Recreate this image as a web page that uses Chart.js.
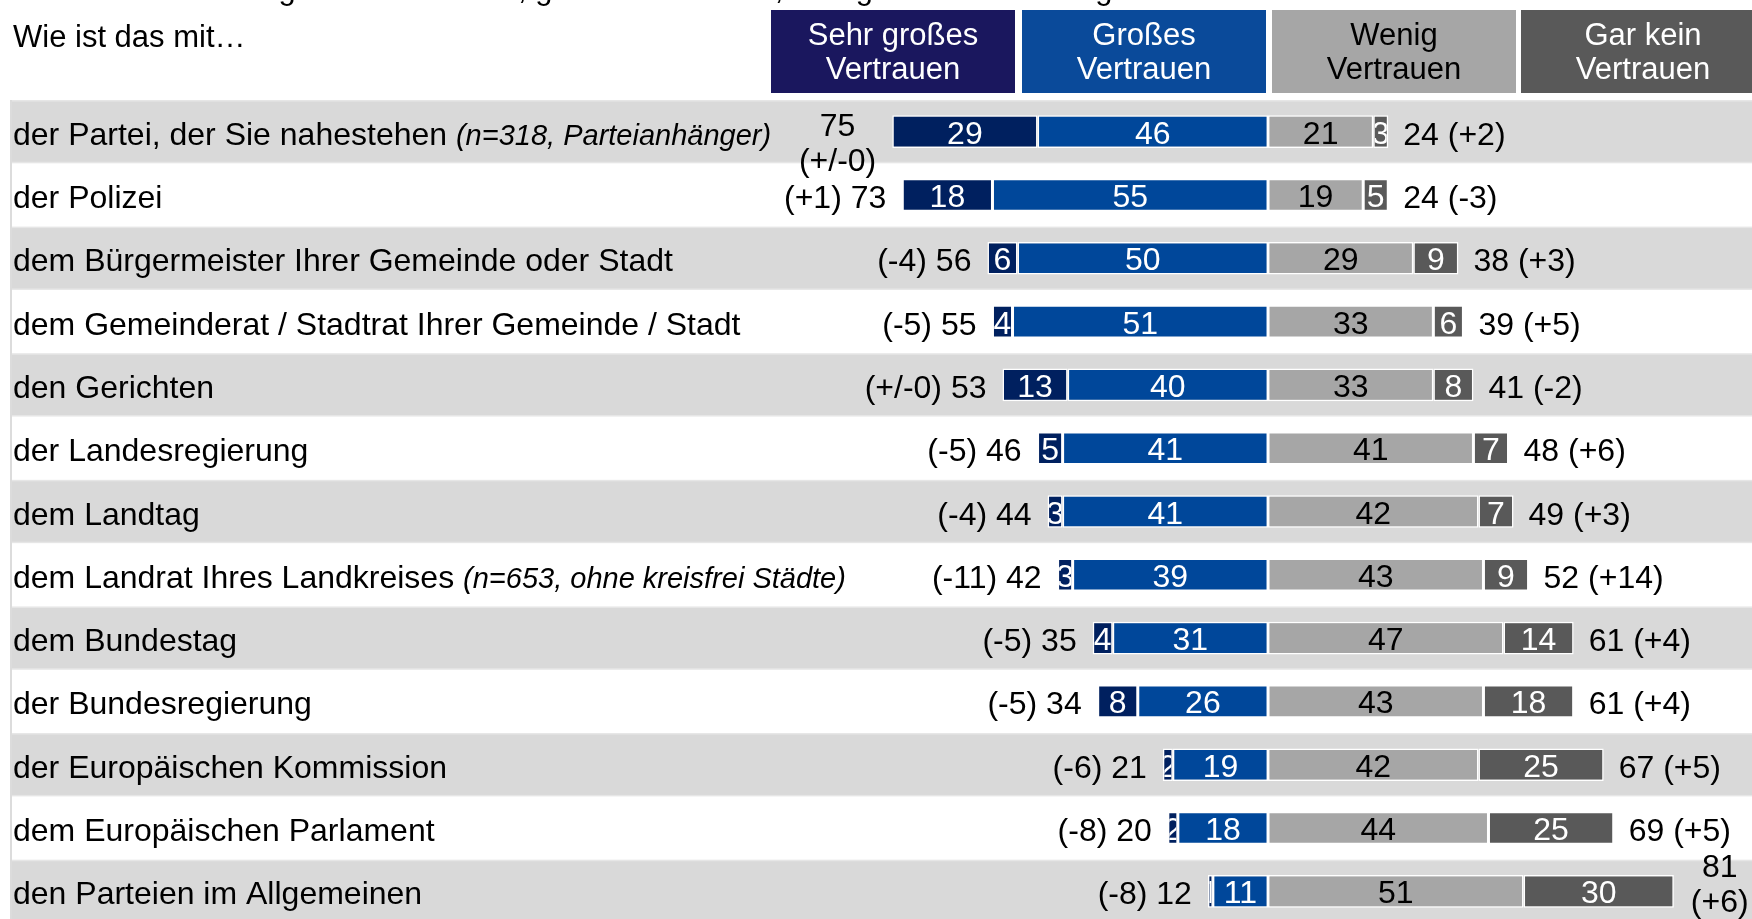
<!DOCTYPE html>
<html>
<head>
<meta charset="utf-8">
<script src="https://cdn.jsdelivr.net/npm/chart.js@4.4.1/dist/chart.umd.min.js"></script>
<style>
html,body{margin:0;padding:0;background:#fff;overflow:hidden;width:1752px;height:919px}
canvas{display:block}
</style>
</head>
<body>
<canvas id="c" width="1752" height="923"></canvas>
<script>
// ---------- data ----------
const questionText = 'Haben Sie da sehr großes Vertrauen, großes Vertrauen, wenig Vertrauen oder gar kein Vertrauen';
const subTitle = 'Wie ist das mit…';
const categories = [
  'der Partei, der Sie nahestehen',
  'der Polizei',
  'dem Bürgermeister Ihrer Gemeinde oder Stadt',
  'dem Gemeinderat / Stadtrat Ihrer Gemeinde / Stadt',
  'den Gerichten',
  'der Landesregierung',
  'dem Landtag',
  'dem Landrat Ihres Landkreises',
  'dem Bundestag',
  'der Bundesregierung',
  'der Europäischen Kommission',
  'dem Europäischen Parlament',
  'den Parteien im Allgemeinen'
];
const categoryNotes = ['(n=318, Parteianhänger)', '', '', '', '', '', '', '(n=653, ohne kreisfrei Städte)', '', '', '', '', ''];
const seriesNames = ['Sehr großes Vertrauen', 'Großes Vertrauen', 'Wenig Vertrauen', 'Gar kein Vertrauen'];
const sehrGross = [29, 18, 6, 4, 13, 5, 3, 3, 4, 8, 2, 2, 1];
const gross     = [46, 55, 50, 51, 40, 41, 41, 39, 31, 26, 19, 18, 11];
const wenig     = [21, 19, 29, 33, 33, 41, 42, 43, 47, 43, 42, 44, 51];
const garKein   = [3, 5, 9, 6, 8, 7, 7, 9, 14, 18, 25, 25, 30];
const vertrauenTotal  = [75, 73, 56, 55, 53, 46, 44, 42, 35, 34, 21, 20, 12];
const vertrauenChange = ['(+/-0)', '(+1)', '(-4)', '(-5)', '(+/-0)', '(-5)', '(-4)', '(-11)', '(-5)', '(-5)', '(-6)', '(-8)', '(-8)'];
const misstrauenTotal  = [24, 24, 38, 39, 41, 48, 49, 52, 61, 61, 67, 69, 81];
const misstrauenChange = ['(+2)', '(-3)', '(+3)', '(+5)', '(-2)', '(+6)', '(+3)', '(+14)', '(+4)', '(+4)', '(+5)', '(+5)', '(+6)'];

// ---------- styles ----------
const FONT = '"Liberation Sans", Arial, Helvetica, sans-serif';
const segColors = ['#00205f', '#00479a', '#a6a6a6', '#595959'];
const segText   = ['#ffffff', '#ffffff', '#000000', '#ffffff'];
const headColors = ['#1a175e', '#0a4a9a', '#a6a6a6', '#595959'];
const headText   = ['#ffffff', '#ffffff', '#000000', '#ffffff'];
const headBoxes  = [[771, 244], [1022, 244], [1272, 244], [1521, 244]];

const common = {
  borderColor: '#ffffff', borderWidth: 1.5, borderSkipped: false,
  barPercentage: 0.515, categoryPercentage: 1, stack: 's'
};
const datasets = [
  Object.assign({label: seriesNames[1], data: gross.map(v => -v), backgroundColor: segColors[1], txt: segText[1]}, common),
  Object.assign({label: seriesNames[0], data: sehrGross.map(v => -v), backgroundColor: segColors[0], txt: segText[0]}, common),
  Object.assign({label: seriesNames[2], data: wenig, backgroundColor: segColors[2], txt: segText[2]}, common),
  Object.assign({label: seriesNames[3], data: garKein, backgroundColor: segColors[3], txt: segText[3]}, common)
];

function txt(ctx, s, x, y, size, color, align, style) {
  ctx.font = (style ? style + ' ' : '') + size + 'px ' + FONT;
  ctx.fillStyle = color;
  ctx.textAlign = align || 'left';
  ctx.textBaseline = 'alphabetic';
  ctx.fillText(s, x, y);
}

const deco = {
  id: 'deco',
  beforeDatasetsDraw(chart) {
    const ctx = chart.ctx, ys = chart.scales.y, a = chart.chartArea;
    const pitch = ys.getPixelForValue(1) - ys.getPixelForValue(0);
    ctx.save();
    categories.forEach((c, i) => {
      const top = ys.getPixelForValue(i) - pitch / 2;
      if (i % 2 === 0) {
        ctx.fillStyle = '#e6e6e6';
        ctx.fillRect(a.left, top, a.right - a.left, pitch);
        ctx.fillStyle = '#d9d9d9';
        ctx.fillRect(a.left, top + 1.5, a.right - a.left, pitch - 3);
      }
    });
    ctx.fillStyle = '#dcdcdc';
    ctx.fillRect(a.left, a.top, 2, a.bottom - a.top);
    ctx.restore();
  },
  afterDatasetsDraw(chart) {
    const ctx = chart.ctx, xs = chart.scales.x, ys = chart.scales.y, a = chart.chartArea;
    ctx.save();
    // header text
    txt(ctx, questionText, 13, -1, 31, '#000000');
    txt(ctx, subTitle, 13, 47, 31, '#000000');
    seriesNames.forEach((n, k) => {
      const [bx, bw] = headBoxes[k];
      ctx.fillStyle = headColors[k];
      ctx.fillRect(bx, 10, bw, 83);
      const sp = n.lastIndexOf(' ');
      const cx = bx + bw / 2;
      txt(ctx, n.slice(0, sp), cx, 45, 31, headText[k], 'center');
      txt(ctx, n.slice(sp + 1), cx, 79, 31, headText[k], 'center');
    });
    // segment labels (clipped to each bar)
    chart.data.datasets.forEach((ds, di) => {
      const meta = chart.getDatasetMeta(di);
      meta.data.forEach((el, i) => {
        const p = el.getProps(['x', 'y', 'base', 'height'], true);
        const l = Math.min(p.x, p.base), r = Math.max(p.x, p.base);
        ctx.save();
        ctx.beginPath();
        ctx.rect(l + 1.5, p.y - p.height / 2, r - l - 3, p.height);
        ctx.clip();
        txt(ctx, String(Math.abs(ds.data[i])), (l + r) / 2, p.y + 12, 32, ds.txt, 'center');
        ctx.restore();
      });
    });
    // category labels and totals
    categories.forEach((c, i) => {
      const cy = ys.getPixelForValue(i);
      const by = cy + 13;
      txt(ctx, c, 13, by, 32, '#000000');
      ctx.font = '32px ' + FONT;
      let end = 13 + ctx.measureText(c).width;
      if (categoryNotes[i]) {
        const nx = end + ctx.measureText(' ').width;
        txt(ctx, categoryNotes[i], nx, by, 29, '#000000', 'left', 'italic');
        ctx.font = 'italic 29px ' + FONT;
        end = nx + ctx.measureText(categoryNotes[i]).width;
      }
      // left total
      const barStart = xs.getPixelForValue(-(sehrGross[i] + gross[i]));
      const leftStr = vertrauenChange[i] + ' ' + vertrauenTotal[i];
      ctx.font = '32px ' + FONT;
      const lw = ctx.measureText(leftStr).width;
      if (barStart - 16 - lw < end + 8) {
        const l1 = String(vertrauenTotal[i]), l2 = vertrauenChange[i];
        const mw = Math.max(ctx.measureText(l1).width, ctx.measureText(l2).width);
        const cx = barStart - 16 - mw / 2;
        txt(ctx, l1, cx, cy + 4, 32, '#000000', 'center');
        txt(ctx, l2, cx, cy + 39, 32, '#000000', 'center');
      } else {
        txt(ctx, leftStr, barStart - 16, by, 32, '#000000', 'right');
      }
      // right total
      const barEnd = xs.getPixelForValue(wenig[i] + garKein[i]);
      const rightStr = misstrauenTotal[i] + ' ' + misstrauenChange[i];
      ctx.font = '32px ' + FONT;
      const rw = ctx.measureText(rightStr).width;
      if (barEnd + 15 + rw > a.right) {
        const r1 = String(misstrauenTotal[i]), r2 = misstrauenChange[i];
        const mw = Math.max(ctx.measureText(r1).width, ctx.measureText(r2).width);
        const cx = barEnd + 17 + mw / 2;
        txt(ctx, r1, cx, cy - 14, 32, '#000000', 'center');
        txt(ctx, r2, cx, cy + 21, 32, '#000000', 'center');
      } else {
        txt(ctx, rightStr, barEnd + 15, by, 32, '#000000', 'left');
      }
    });
    ctx.restore();
  }
};

new Chart(document.getElementById('c'), {
  type: 'bar',
  data: {labels: categories, datasets: datasets},
  options: {
    indexAxis: 'y',
    responsive: false,
    animation: false,
    layout: {padding: {left: 10, right: 0, top: 100, bottom: 0}},
    scales: {
      x: {type: 'linear', stacked: true, min: -251.1, max: 96.6, display: false},
      y: {type: 'category', stacked: true, display: false, offset: true}
    },
    plugins: {legend: {display: false}, tooltip: {enabled: false}},
    events: []
  },
  plugins: [deco]
});
</script>
</body>
</html>
